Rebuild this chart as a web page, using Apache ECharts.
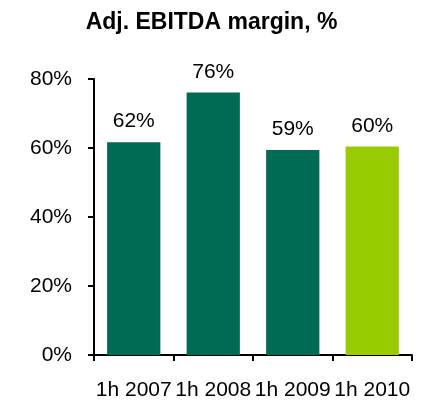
<!DOCTYPE html>
<html><head><meta charset="utf-8">
<script src="https://cdn.jsdelivr.net/npm/echarts@6/dist/echarts.min.js"></script>
<style>html,body{margin:0;padding:0;background:#fff}#c{width:423px;height:403px}</style>
</head><body><div id="c"></div>
<script>
const categories = ['1h 2007', '1h 2008', '1h 2009', '1h 2010'];
const values = [61.7, 76.1, 59.4, 60.4];
const barColors = ['#006B54', '#006B54', '#006B54', '#99CC00'];
const yTicks = { min: 0, max: 80, interval: 20 };
const titleText = 'Adj. EBITDA margin, %';

const chart = echarts.init(document.getElementById('c'));
const font = 'Liberation Sans, Arial, sans-serif';
chart.setOption({
  animation: false,
  title: { text: titleText, left: 'center', top: 6,
    textStyle: { fontFamily: font, fontSize: 23, fontWeight: 'bold', color: '#000' } },
  grid: { left: 94, right: 11, top: 79, bottom: 48 },
  xAxis: {
    type: 'category', data: categories,
    axisLine: { lineStyle: { color: '#000', width: 2 } },
    axisTick: { show: true, length: 6, lineStyle: { color: '#000', width: 2 } },
    axisLabel: { fontFamily: font, fontSize: 21, color: '#000', margin: 25, interval: 0 }
  },
  yAxis: {
    type: 'value', min: yTicks.min, max: yTicks.max, interval: yTicks.interval,
    axisLine: { show: true, lineStyle: { color: '#000', width: 2 } },
    axisTick: { show: true, length: 6, lineStyle: { color: '#000', width: 2 } },
    splitLine: { show: false },
    axisLabel: { fontFamily: font, fontSize: 21, color: '#000', margin: 22, formatter: '{value}%' }
  },
  series: [{
    type: 'bar', barCategoryGap: '33%',
    data: values.map((v, i) => ({ value: v, itemStyle: { color: barColors[i] } })),
    label: { show: true, position: 'top', distance: 10,
      formatter: p => Math.round(p.value) + '%',
      fontFamily: font, fontSize: 21, color: '#000' }
  }]
});
</script></body></html>
